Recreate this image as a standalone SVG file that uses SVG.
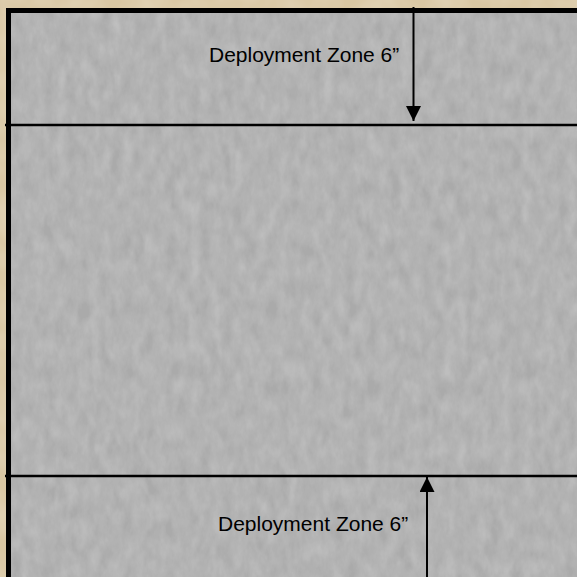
<svg xmlns="http://www.w3.org/2000/svg" width="577" height="577" viewBox="0 0 577 577">
  <style>
    .lbl { font-family: "Liberation Sans", Arial, sans-serif; font-size: 21px; fill: #000; }
    .zone { stroke: #000; stroke-width: 2.5; fill: none; }
    .conn { stroke: #000; stroke-width: 2; fill: none; }
  </style>
  <defs>
    <filter id="tex" x="0" y="0" width="100%" height="100%">
      <feTurbulence type="fractalNoise" baseFrequency="0.09 0.05" numOctaves="4" seed="7" result="n"/>
      <feColorMatrix in="n" type="matrix" values="0 0 0 0 0.64  0 0 0 0 0.64  0 0 0 0 0.64  0.45 0.45 0 0 -0.25" result="g"/>
      <feComposite in="g" in2="SourceGraphic" operator="atop"/>
    </filter>
    <filter id="sand" x="0" y="0" width="100%" height="100%">
      <feTurbulence type="fractalNoise" baseFrequency="0.03" numOctaves="3" seed="3" result="n"/>
      <feColorMatrix in="n" type="matrix" values="0 0 0 0 0.92  0 0 0 0 0.84  0 0 0 0 0.70  0.5 0 0 0 -0.15" result="g"/>
      <feComposite in="g" in2="SourceGraphic" operator="atop"/>
    </filter>
    <marker id="arr" markerWidth="15" markerHeight="15" refX="15" refY="7.5" orient="auto" markerUnits="userSpaceOnUse">
      <path d="M0,0 L15,7.5 L0,15 Z" fill="#000"/>
    </marker>
  </defs>

  <g id="background">
    <rect x="0" y="0" width="577" height="577" fill="#d9c7a3" filter="url(#sand)"/>
  </g>

  <g id="board">
    <rect x="6" y="8" width="571" height="569" fill="#aaaaaa" filter="url(#tex)"/>
    <path d="M8.5,577 V10.5 H577" fill="none" stroke="#000" stroke-width="5"/>
  </g>

  <g id="zone-lines">
    <line class="zone" x1="5" y1="125" x2="577" y2="125"/>
    <line class="zone" x1="5" y1="476" x2="577" y2="476"/>
  </g>

  <g id="connectors">
    <line class="conn" x1="413.5" y1="7" x2="413.5" y2="121" marker-end="url(#arr)"/>
    <line class="conn" x1="427" y1="577" x2="427" y2="477" marker-end="url(#arr)"/>
  </g>

  <g id="top-zone-label">
    <text class="lbl" x="209" y="62">Deployment Zone 6”</text>
  </g>

  <g id="bottom-zone-label">
    <text class="lbl" x="218" y="531">Deployment Zone 6”</text>
  </g>
</svg>
